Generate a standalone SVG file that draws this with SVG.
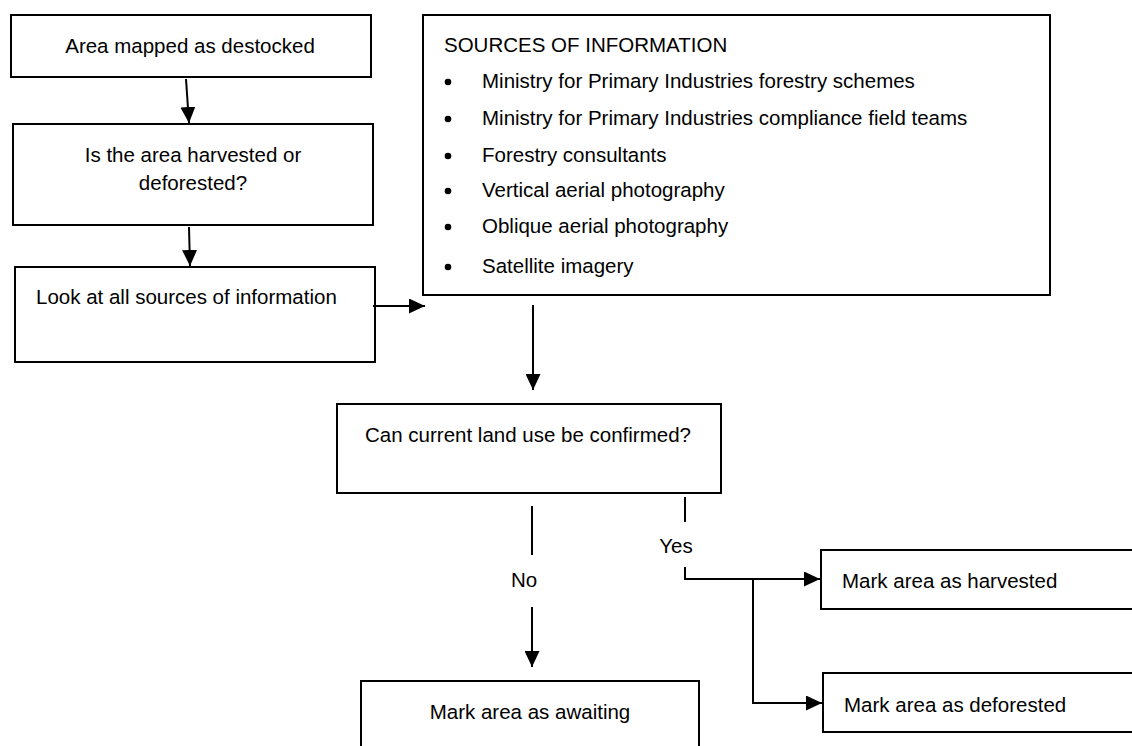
<svg xmlns="http://www.w3.org/2000/svg" width="1132" height="746" viewBox="0 0 1132 746">
<defs>
<marker id="ah" markerUnits="userSpaceOnUse" markerWidth="17" markerHeight="15" refX="16" refY="7.5" orient="auto">
<path d="M0,0 L16,7.5 L0,15 z" fill="#000"/>
</marker>
<style>
.box{fill:#fff;stroke:#000;stroke-width:2}
.t{font-family:"Liberation Sans",Arial,sans-serif;font-size:20.5px;fill:#000}
.c{text-anchor:middle}
.ln{fill:none;stroke:#000;stroke-width:2}
.ar{fill:none;stroke:#000;stroke-width:2;marker-end:url(#ah)}
</style>
</defs>
<rect width="1132" height="746" fill="#fff"/>
<g id="n-destocked">
<rect class="box" x="11" y="15" width="360" height="62"/>
<text class="t c" x="190" y="53">Area mapped as destocked</text>
</g>
<g id="n-harvested-or-deforested">
<rect class="box" x="13" y="124" width="360" height="101"/>
<text class="t c" x="193" y="162">Is the area harvested or</text>
<text class="t c" x="193" y="190">deforested?</text>
</g>
<g id="n-look">
<rect class="box" x="15" y="267" width="360" height="95"/>
<text class="t" x="36" y="304">Look at all sources of information</text>
</g>
<g id="n-sources">
<rect class="box" x="423" y="15" width="627" height="280"/>
<text class="t" x="444" y="52" font-size="19">SOURCES OF INFORMATION</text>
<circle cx="448" cy="82" r="3.3"/>
<text class="t" x="482" y="88" font-size="21">Ministry for Primary Industries forestry schemes</text>
<circle cx="448" cy="119" r="3.3"/>
<text class="t" x="482" y="125" font-size="21">Ministry for Primary Industries compliance field teams</text>
<circle cx="448" cy="156" r="3.3"/>
<text class="t" x="482" y="162" font-size="21">Forestry consultants</text>
<circle cx="448" cy="191" r="3.3"/>
<text class="t" x="482" y="197" font-size="21">Vertical aerial photography</text>
<circle cx="448" cy="227" r="3.3"/>
<text class="t" x="482" y="233" font-size="21">Oblique aerial photography</text>
<circle cx="448" cy="267" r="3.3"/>
<text class="t" x="482" y="273" font-size="21">Satellite imagery</text>
</g>
<g id="n-confirm">
<rect class="box" x="337" y="404" width="384" height="89"/>
<text class="t c" x="528" y="442">Can current land use be confirmed?</text>
</g>
<g id="n-awaiting">
<rect class="box" x="361" y="681" width="338" height="80"/>
<text class="t c" x="530" y="719">Mark area as awaiting</text>
</g>
<g id="n-mark-harvested">
<rect class="box" x="821" y="550" width="320" height="59"/>
<text class="t" x="842" y="588">Mark area as harvested</text>
</g>
<g id="n-mark-deforested">
<rect class="box" x="823" y="673" width="320" height="59"/>
<text class="t" x="844" y="712">Mark area as deforested</text>
</g>
<g id="connectors">
<line class="ar" x1="186" y1="79" x2="189" y2="123"/>
<line class="ar" x1="189" y1="227" x2="190" y2="266"/>
<line class="ar" x1="373" y1="306" x2="425" y2="306"/>
<line class="ar" x1="533" y1="305" x2="533" y2="390"/>
<line class="ln" x1="532" y1="506" x2="532" y2="555"/>
<line class="ar" x1="532" y1="607" x2="532" y2="667"/>
<line class="ln" x1="685" y1="497" x2="685" y2="522"/>
<polyline class="ar" points="685,567 685,579 820,579"/>
<polyline class="ar" points="753,579 753,703 822,703"/>
<text class="t c" x="524" y="587">No</text>
<text class="t c" x="676" y="553">Yes</text>
</g>
</svg>
